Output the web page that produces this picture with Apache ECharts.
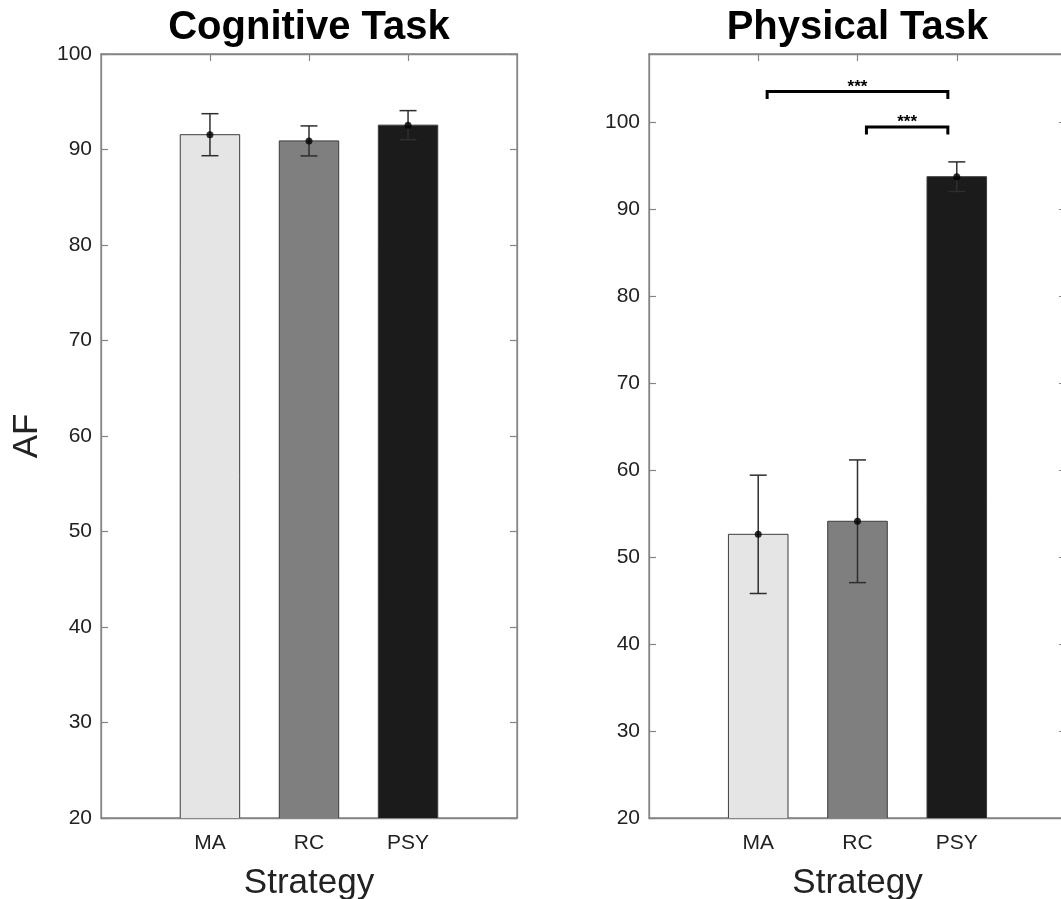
<!DOCTYPE html>
<html>
<head>
<meta charset="utf-8">
<script src="https://cdn.jsdelivr.net/npm/echarts@6/dist/echarts.min.js"></script>
<style>
  html, body { margin: 0; padding: 0; background: #ffffff; }
  #chart { width: 1061px; height: 899px; }
</style>
</head>
<body>
<div id="chart"></div>
<script>
// Strategy categories and their x positions
const categories = ['MA', 'RC', 'PSY'];
const categoryPositions = [1, 2, 3];

// Mean AF and error (half-length of error bar) per strategy
const cognitiveMeans = [91.55, 90.9, 92.55];
const cognitiveErrors = [2.2, 1.57, 1.52];
const physicalMeans = [52.6, 54.1, 93.7];
const physicalErrors = [6.8, 7.05, 1.7];

// Y tick values shared by both panels
const yTicks = [20, 30, 40, 50, 60, 70, 80, 90, 100];

// Significance brackets on the physical panel: [from, to] category positions
const bracketPairs = [[1, 3], [2, 3]];
const bracketLevels = [103.5, 99.4];
const bracketLabels = ['***', '***'];

const FONT = '"Liberation Sans", Arial, Helvetica, sans-serif';
const AXIS_COLOR = '#858585';
const TEXT_COLOR = '#222222';
const barColors = ['#e5e5e5', '#7f7f7f', '#1b1b1b'];
const BAR_HALF = 0.3;       // bar half-width in x units
const CAP_HALF = 8.5;       // error-bar cap half-width in px
const BRACKET_INSET = 0.09; // bracket ends inset from bar centres
const BRACKET_TIP = 7.5;    // px

const X_MIN = -0.1, X_MAX = 4.1;

function bottomXAxis(gridIndex) {
  return {
    type: 'value', gridIndex: gridIndex, position: 'bottom',
    min: X_MIN, max: X_MAX,
    axisLine: { show: true, onZero: false, lineStyle: { color: AXIS_COLOR, width: 1.3 } },
    axisTick: { show: true, inside: true, length: 7, customValues: categoryPositions,
                lineStyle: { color: AXIS_COLOR, width: 1.2 } },
    axisLabel: { show: true, customValues: categoryPositions, margin: 15,
                 fontFamily: FONT, fontSize: 21, color: TEXT_COLOR,
                 formatter: function (v) { return categories[categoryPositions.indexOf(v)] || ''; } },
    splitLine: { show: false },
    name: 'Strategy', nameLocation: 'middle', nameGap: 48,
    nameTextStyle: { fontFamily: FONT, fontSize: 35, color: TEXT_COLOR }
  };
}

function topXAxis(gridIndex, title) {
  return {
    type: 'value', gridIndex: gridIndex, position: 'top',
    min: X_MIN, max: X_MAX,
    axisLine: { show: true, onZero: false, lineStyle: { color: AXIS_COLOR, width: 1.3 } },
    axisTick: { show: true, inside: true, length: 7, customValues: categoryPositions,
                lineStyle: { color: AXIS_COLOR, width: 1.2 } },
    axisLabel: { show: false },
    splitLine: { show: false },
    name: title, nameLocation: 'middle', nameGap: 6,
    nameTextStyle: { fontFamily: FONT, fontSize: 40, fontWeight: 'bold', color: '#000000' }
  };
}

function leftYAxis(gridIndex, max, name) {
  return {
    type: 'value', gridIndex: gridIndex, position: 'left',
    min: 20, max: max,
    axisLine: { show: true, onZero: false, lineStyle: { color: AXIS_COLOR, width: 1.3 } },
    axisTick: { show: true, inside: true, length: 7, customValues: yTicks,
                lineStyle: { color: AXIS_COLOR, width: 1.2 } },
    axisLabel: { show: true, customValues: yTicks, margin: 9,
                 fontFamily: FONT, fontSize: 21, color: TEXT_COLOR },
    splitLine: { show: false },
    name: name, nameLocation: 'middle', nameGap: 56, nameRotate: 90,
    nameTextStyle: { fontFamily: FONT, fontSize: 35, color: TEXT_COLOR }
  };
}

function rightYAxis(gridIndex, max) {
  return {
    type: 'value', gridIndex: gridIndex, position: 'right',
    min: 20, max: max,
    axisLine: { show: true, onZero: false, lineStyle: { color: AXIS_COLOR, width: 1.3 } },
    axisTick: { show: true, inside: true, length: 7, customValues: yTicks,
                lineStyle: { color: AXIS_COLOR, width: 1.2 } },
    axisLabel: { show: false },
    splitLine: { show: false }
  };
}

function barSeries(axisIdx, means) {
  return {
    type: 'custom', xAxisIndex: axisIdx, yAxisIndex: axisIdx, clip: true, z: 2,
    data: categoryPositions.map(function (x, i) { return [x, means[i]]; }),
    encode: { x: 0, y: 1 },
    renderItem: function (params, api) {
      const x = api.value(0), v = api.value(1);
      const topLeft = api.coord([x - BAR_HALF, v]);
      const bottomRight = api.coord([x + BAR_HALF, 0]);
      return {
        type: 'rect',
        shape: { x: topLeft[0], y: topLeft[1], width: bottomRight[0] - topLeft[0], height: bottomRight[1] - topLeft[1] },
        style: { fill: barColors[params.dataIndex], stroke: '#3c3c3c', lineWidth: 1 }
      };
    }
  };
}

function errorSeries(axisIdx, means, errors) {
  return {
    type: 'custom', xAxisIndex: axisIdx, yAxisIndex: axisIdx, z: 3,
    data: categoryPositions.map(function (x, i) { return [x, means[i], errors[i]]; }),
    encode: { x: 0, y: 1 },
    renderItem: function (params, api) {
      const x = api.value(0), m = api.value(1), e = api.value(2);
      const hi = api.coord([x, m + e]);
      const lo = api.coord([x, m - e]);
      const st = { stroke: '#2e2e2e', lineWidth: 1.5 };
      return {
        type: 'group',
        children: [
          { type: 'line', shape: { x1: hi[0], y1: hi[1], x2: lo[0], y2: lo[1] }, style: st },
          { type: 'line', shape: { x1: hi[0] - CAP_HALF, y1: hi[1], x2: hi[0] + CAP_HALF, y2: hi[1] }, style: st },
          { type: 'line', shape: { x1: lo[0] - CAP_HALF, y1: lo[1], x2: lo[0] + CAP_HALF, y2: lo[1] }, style: st }
        ]
      };
    }
  };
}

function meanDots(axisIdx, means) {
  return {
    type: 'scatter', xAxisIndex: axisIdx, yAxisIndex: axisIdx, z: 4,
    symbol: 'circle', symbolSize: 7,
    itemStyle: { color: '#000000' },
    data: categoryPositions.map(function (x, i) { return [x, means[i]]; })
  };
}

const bracketSeries = {
  type: 'custom', xAxisIndex: 2, yAxisIndex: 2, z: 5,
  data: bracketPairs.map(function (p, i) { return [p[0], p[1], bracketLevels[i]]; }),
  encode: { x: [0, 1], y: 2 },
  renderItem: function (params, api) {
    const from = api.value(0), to = api.value(1), lvl = api.value(2);
    const a = api.coord([from + BRACKET_INSET, lvl]);
    const b = api.coord([to - BRACKET_INSET, lvl]);
    return {
      type: 'group',
      children: [
        { type: 'polyline',
          shape: { points: [[a[0], a[1] + BRACKET_TIP], [a[0], a[1]], [b[0], b[1]], [b[0], b[1] + BRACKET_TIP]] },
          style: { stroke: '#000000', lineWidth: 3, fill: null, lineJoin: 'miter' } },
        { type: 'text',
          style: { text: bracketLabels[params.dataIndex], x: (a[0] + b[0]) / 2, y: a[1] + 4,
                   align: 'center', verticalAlign: 'bottom', textAlign: 'center', textVerticalAlign: 'bottom',
                   font: 'bold 17px ' + FONT, fill: '#000000' } }
      ]
    };
  }
};

const chart = echarts.init(document.getElementById('chart'), null, { renderer: 'canvas' });
chart.setOption({
  animation: false,
  backgroundColor: '#ffffff',
  grid: [
    { left: 101, top: 54, width: 416, height: 764, containLabel: false, outerBoundsMode: 'none',
      show: true, borderColor: AXIS_COLOR, borderWidth: 1.3, backgroundColor: '#ffffff' },
    { left: 649, top: 54, width: 417, height: 764, containLabel: false, outerBoundsMode: 'none',
      show: true, borderColor: AXIS_COLOR, borderWidth: 1.3, backgroundColor: '#ffffff' }
  ],
  xAxis: [bottomXAxis(0), topXAxis(0, 'Cognitive Task'), bottomXAxis(1), topXAxis(1, 'Physical Task')],
  yAxis: [leftYAxis(0, 100, 'AF'), rightYAxis(0, 100), leftYAxis(1, 107.8, ''), rightYAxis(1, 107.8)],
  series: [
    barSeries(0, cognitiveMeans),
    errorSeries(0, cognitiveMeans, cognitiveErrors),
    meanDots(0, cognitiveMeans),
    barSeries(2, physicalMeans),
    errorSeries(2, physicalMeans, physicalErrors),
    meanDots(2, physicalMeans),
    bracketSeries
  ]
});
</script>
</body>
</html>
